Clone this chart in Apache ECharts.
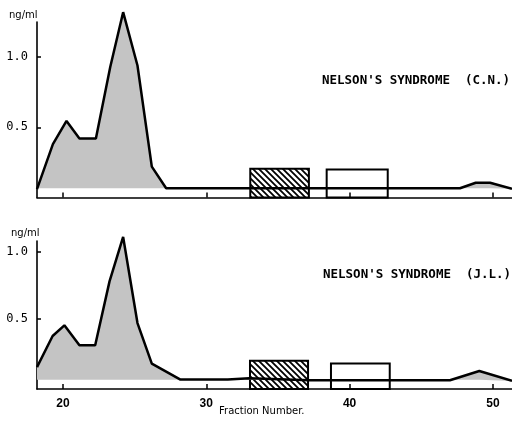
<!DOCTYPE html>
<html><head><meta charset="utf-8">
<script src="https://cdn.jsdelivr.net/npm/echarts@6/dist/echarts.min.js"></script>
<style>html,body{margin:0;padding:0;background:#fff}#c{width:512px;height:424px}</style>
</head><body><div id="c"></div>
<script>
// Top panel (C.N.) curve: fraction number, ng/ml
const topFractions = [18.19, 19.3, 20.25, 21.15, 22.3, 23.3, 24.2, 25.2, 26.2, 27.2, 47.7, 48.8, 49.8, 51.33];
const topValues    = [0.06, 0.38, 0.545, 0.42, 0.42, 0.93, 1.32, 0.94, 0.22, 0.066, 0.066, 0.105, 0.105, 0.062];
// Bottom panel (J.L.) curve
const botFractions = [18.19, 19.28, 20.1, 21.15, 22.25, 23.25, 24.2, 25.2, 26.2, 28.2, 31.5, 33.0, 37.2, 47.0, 49.05, 51.33];
const botValues    = [0.143, 0.374, 0.453, 0.305, 0.305, 0.78, 1.11, 0.47, 0.168, 0.05, 0.05, 0.06, 0.045, 0.045, 0.114, 0.04];
// Baselines (flat level) for shaded area
const topBaseline = 0.066;
const botBaseline = 0.048;
// Boxes: [fromFraction, toFraction, height]
const topHatchedBox = [33.07, 37.16, 0.205];
const topOpenBox    = [38.4, 42.66, 0.20];
const botHatchedBox = [33.05, 37.1, 0.19];
const botOpenBox    = [38.7, 42.8, 0.17];
// Tick labels
const xTicks = [20, 30, 40, 50];
const yTicks = [0.5, 1.0];
const titles = ["NELSON'S SYNDROME  (C.N.)", "NELSON'S SYNDROME  (J.L.)"];
const yUnit = 'ng/ml';
const xTitle = 'Fraction Number.';

// hatch pattern
const pc = document.createElement('canvas');
pc.width = 6; pc.height = 6;
const g = pc.getContext('2d');
g.fillStyle = '#fff'; g.fillRect(0,0,6,6);
g.strokeStyle = '#000'; g.lineWidth = 1.8;
g.beginPath();
g.moveTo(-3,-3); g.lineTo(9,9);
g.moveTo(-3,3); g.lineTo(3,9);
g.moveTo(3,-3); g.lineTo(9,3);
g.stroke();
const hatch = {image: pc, repeat: 'repeat'};

const zip = (a, b) => a.map((v, i) => [v, b[i]]);
const X_MIN = 18.19, X_MAX = 51.33;

function boxSeries(gi, box, hatched, yMin) {
  return {
    type: 'custom', xAxisIndex: gi, yAxisIndex: gi, z: 1, silent: true,
    data: [box],
    renderItem: (params, api) => {
      const p0 = api.coord([api.value(0), api.value(2)]);
      const p1 = api.coord([api.value(1), yMin]);
      return {
        type: 'rect',
        shape: {x: p0[0], y: p0[1], width: p1[0] - p0[0], height: p1[1] - p0[1]},
        style: {fill: hatched ? hatch : 'rgba(255,255,255,0)', stroke: '#000', lineWidth: 2}
      };
    }
  };
}
function lineSeries(gi, xs, ys, base) {
  return {
    type: 'line', xAxisIndex: gi, yAxisIndex: gi, z: 3, clip: false, silent: true,
    data: zip(xs, ys), symbol: 'none',
    lineStyle: {color: '#000', width: 2.5},
    areaStyle: {color: '#c4c4c4', opacity: 1, origin: base}
  };
}

const chart = echarts.init(document.getElementById('c'), null, {renderer: 'canvas'});
chart.setOption({
  animation: false,
  grid: [
    {left: 37, right: 0, top: 22, height: 175.5},
    {left: 37, right: 0, top: 241, height: 148}
  ],
  xAxis: [0, 1].map(i => ({
    type: 'value', gridIndex: i, min: X_MIN, max: X_MAX,
    axisLine: {show: true, onZero: false, lineStyle: {color: '#000', width: 1.6}},
    splitLine: {show: false},
    axisTick: {show: true, inside: true, length: 5, lineStyle: {color: '#000', width: 1.5}, customValues: xTicks},
    axisLabel: {show: i === 1, customValues: xTicks, margin: 9, color: '#000',
      fontFamily: 'Liberation Sans', fontWeight: 'bold', fontSize: 12}
  })),
  yAxis: [
    {min: 0, max: 1.25},
    {min: -0.02, max: 1.08}
  ].map((r, i) => ({
    type: 'value', gridIndex: i, min: r.min, max: r.max,
    axisLine: {show: true, onZero: false, lineStyle: {color: '#000', width: 1.6}},
    splitLine: {show: false},
    axisTick: {show: true, inside: true, length: 4, lineStyle: {color: '#000', width: 1.5}, customValues: yTicks},
    axisLabel: {show: true, customValues: yTicks, margin: 9, color: '#000',
      fontFamily: 'DejaVu Sans Mono', fontSize: 12, formatter: v => v.toFixed(1)}
  })),
  series: [
    boxSeries(0, topHatchedBox, true, 0),
    boxSeries(0, topOpenBox, false, 0),
    lineSeries(0, topFractions, topValues, topBaseline),
    boxSeries(1, botHatchedBox, true, -0.02),
    boxSeries(1, botOpenBox, false, -0.02),
    lineSeries(1, botFractions, botValues, botBaseline)
  ],
  graphic: [
    {type: 'text', left: 9, top: 10, style: {text: yUnit, font: '10px "DejaVu Sans"', fill: '#000'}},
    {type: 'text', left: 11, top: 228, style: {text: yUnit, font: '10px "DejaVu Sans"', fill: '#000'}},
    {type: 'text', left: 322, top: 74, style: {text: titles[0], font: 'bold 12.5px "DejaVu Sans Mono"', fill: '#000'}},
    {type: 'text', left: 323, top: 268, style: {text: titles[1], font: 'bold 12.5px "DejaVu Sans Mono"', fill: '#000'}},
    {type: 'text', left: 219, top: 406, style: {text: xTitle, font: '10px "DejaVu Sans"', fill: '#000'}}
  ]
});
</script>
</body></html>
